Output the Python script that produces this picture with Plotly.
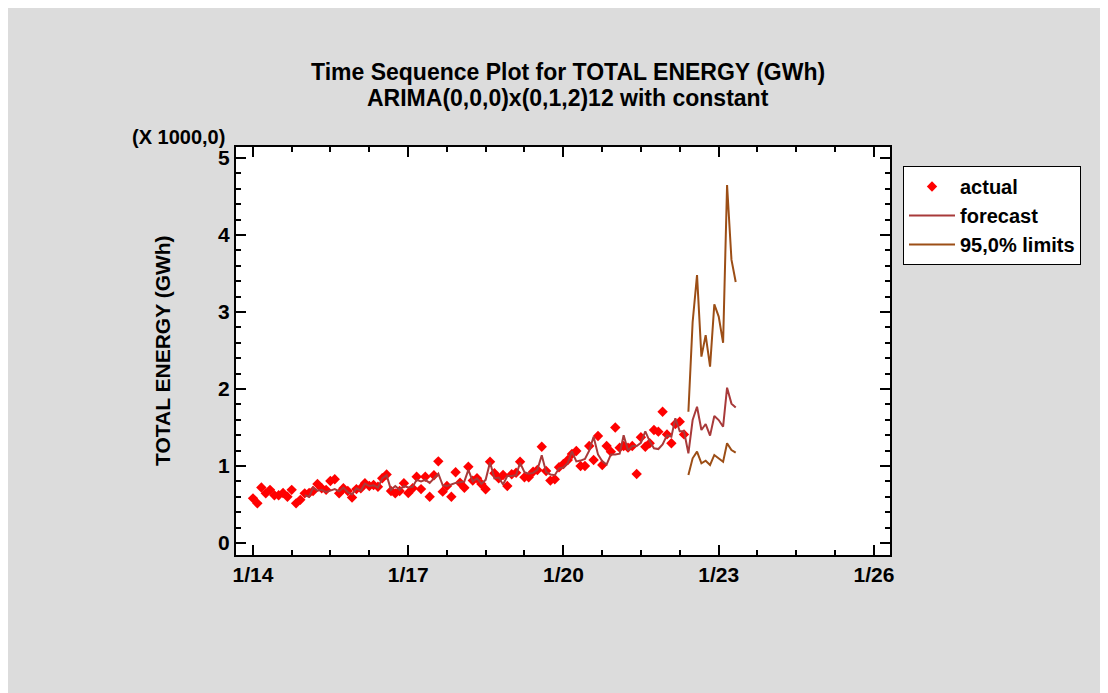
import pandas as pd
import plotly.graph_objects as go

# ---- data (values in thousands of GWh) ----
actual_start = "2014-01-01"
actual = [0.58, 0.515, 0.72, 0.645, 0.69, 0.62, 0.62, 0.65, 0.60, 0.69, 0.515, 0.56,
          0.645, 0.65, 0.675, 0.766, 0.71, 0.69, 0.805, 0.827, 0.645, 0.71, 0.675, 0.59,
          0.70, 0.71, 0.775, 0.74, 0.753, 0.73, 0.84, 0.89, 0.675, 0.645, 0.675, 0.775,
          0.65, 0.71, 0.86, 0.70, 0.86, 0.60, 0.88, 1.06, 0.667, 0.74, 0.60, 0.918,
          0.783, 0.718, 0.99, 0.81, 0.84, 0.766, 0.697, 1.056, 0.905, 0.84, 0.883, 0.74,
          0.892, 0.913, 1.056, 0.853, 0.853, 0.926, 0.948, 1.25, 0.935, 0.81, 0.827, 0.983,
          1.026, 1.078, 1.156, 1.195, 1.0, 1.0, 1.26, 1.078, 1.39, 1.013, 1.26, 1.186,
          1.50, 1.238, 1.26, 1.238, 1.26, 0.896, 1.373, 1.25, 1.295, 1.468, 1.446, 1.705,
          1.41, 1.295, 1.545, 1.576, 1.41]

fitted_start = "2015-01-01"
fitted = [0.62, 0.60, 0.72, 0.68, 0.69, 0.66, 0.68, 0.70, 0.67, 0.72, 0.66, 0.63,
          0.71, 0.68, 0.77, 0.74, 0.75, 0.72, 0.84, 0.88, 0.69, 0.74, 0.69, 0.74,
          0.72, 0.73, 0.82, 0.80, 0.82, 0.78, 0.84, 0.90, 0.75, 0.74, 0.76, 0.78,
          0.79, 0.80, 0.95, 0.80, 0.84, 0.77, 0.82, 1.05, 0.84, 0.85, 0.76, 0.87,
          0.87, 0.88, 1.04, 0.92, 0.90, 0.91, 0.95, 1.14, 0.92, 0.89, 0.88, 0.97,
          0.98, 1.04, 1.19, 1.06, 1.07, 1.09, 1.20, 1.38, 1.15, 1.06, 1.02, 1.15,
          1.15, 1.16, 1.40, 1.20, 1.26, 1.26, 1.30, 1.45, 1.32, 1.23, 1.22, 1.28,
          1.40, 1.38, 1.62, 1.45, 1.45]

forecast_start = "2022-06-01"
forecast = [1.165, 1.597, 1.77, 1.468, 1.545, 1.394, 1.65, 1.597, 1.51, 2.017, 1.81, 1.76]
upper = [1.705, 2.87, 3.48, 2.42, 2.70, 2.29, 3.10, 2.94, 2.60, 4.65, 3.68, 3.39]
lower = [0.883, 1.10, 1.186, 1.035, 1.069, 1.013, 1.143, 1.10, 1.056, 1.295, 1.208, 1.173]

y_ticks = [0, 1, 2, 3, 4, 5]

# ---- build ----
x_act = pd.date_range(actual_start, periods=len(actual), freq="MS")
x_fit = pd.date_range(fitted_start, periods=len(fitted), freq="MS")
x_fc = pd.date_range(forecast_start, periods=len(forecast), freq="MS")

x_line = list(x_fit) + list(x_fc)
y_line = fitted + forecast

FONT = "Liberation Sans, Arial, sans-serif"
C_FC = "#A83A3A"
C_LIM = "#9C4E16"

fig = go.Figure()
fig.add_trace(go.Scatter(x=x_act, y=actual, mode="markers", name="actual",
                         marker=dict(symbol="diamond", size=8, color="#FF0000")))
fig.add_trace(go.Scatter(x=x_line, y=y_line, mode="lines", name="forecast",
                         line=dict(color=C_FC, width=2)))
fig.add_trace(go.Scatter(x=x_fc, y=upper, mode="lines", name="95,0% limits",
                         legendgroup="lim", line=dict(color=C_LIM, width=2)))
fig.add_trace(go.Scatter(x=x_fc, y=lower, mode="lines", name="95,0% limits",
                         legendgroup="lim", showlegend=False,
                         line=dict(color=C_LIM, width=2)))

axis_common = dict(
    showline=True, linecolor="black", linewidth=2, mirror="ticks",
    ticks="inside", ticklen=10, tickwidth=2, tickcolor="black",
    showgrid=False, zeroline=False,
    tickfont=dict(family=FONT, size=21, color="black", weight="bold"),
)

L, T, W, H = 228, 139, 654, 408
FIG_W, FIG_H = 1108, 693


def px(xp):
    return (xp - L) / W


def py(yp):
    return (T + H - yp) / H


fig.update_layout(
    width=FIG_W, height=FIG_H,
    paper_bgcolor="#DCDCDC", plot_bgcolor="white",
    margin=dict(l=L, r=FIG_W - L - W, t=T, b=FIG_H - T - H),
    showlegend=True,
    legend=dict(x=px(895), y=py(158), xanchor="left", yanchor="top",
                bgcolor="white", bordercolor="black", borderwidth=1,
                traceorder="normal", itemwidth=46,
                font=dict(family=FONT, size=20, color="black", weight="bold")),
    xaxis=dict(axis_common, type="date", range=["2013-09-03", "2026-04-24"],
               tick0="2014-01-01", dtick="M36", tickformat="%-m/%y",
               ticklabelstandoff=0,
               minor=dict(ticks="inside", ticklen=5, tickwidth=1.5, tickcolor="black",
                          dtick="M9", tick0="2014-01-01", showgrid=False)),
    yaxis=dict(axis_common, range=[-0.156, 5.143], tickvals=y_ticks,
               ticktext=[str(v) for v in y_ticks], ticklabelstandoff=0,
               minor=dict(ticks="inside", ticklen=5, tickwidth=1.5, tickcolor="black",
                          dtick=0.2, tick0=0, showgrid=False)),
    annotations=[
        dict(text="Time Sequence Plot for TOTAL ENERGY (GWh)", xref="paper", yref="paper",
             x=px(560), y=py(64), xanchor="center", yanchor="middle", showarrow=False,
             font=dict(family=FONT, size=23, color="black", weight="bold")),
        dict(text="ARIMA(0,0,0)x(0,1,2)12 with constant", xref="paper", yref="paper",
             x=px(560), y=py(90), xanchor="center", yanchor="middle", showarrow=False,
             font=dict(family=FONT, size=23, color="black", weight="bold")),
        dict(text="(X 1000,0)", xref="paper", yref="paper",
             x=px(219), y=py(129), xanchor="right", yanchor="middle",
             showarrow=False,
             font=dict(family=FONT, size=20, color="black", weight="bold")),
        dict(text="TOTAL ENERGY (GWh)", xref="paper", yref="paper", textangle=-90,
             x=px(154), y=0.5, xanchor="center", yanchor="middle",
             showarrow=False,
             font=dict(family=FONT, size=21, color="black", weight="bold")),
    ],
)

fig.write_html("out.html")
